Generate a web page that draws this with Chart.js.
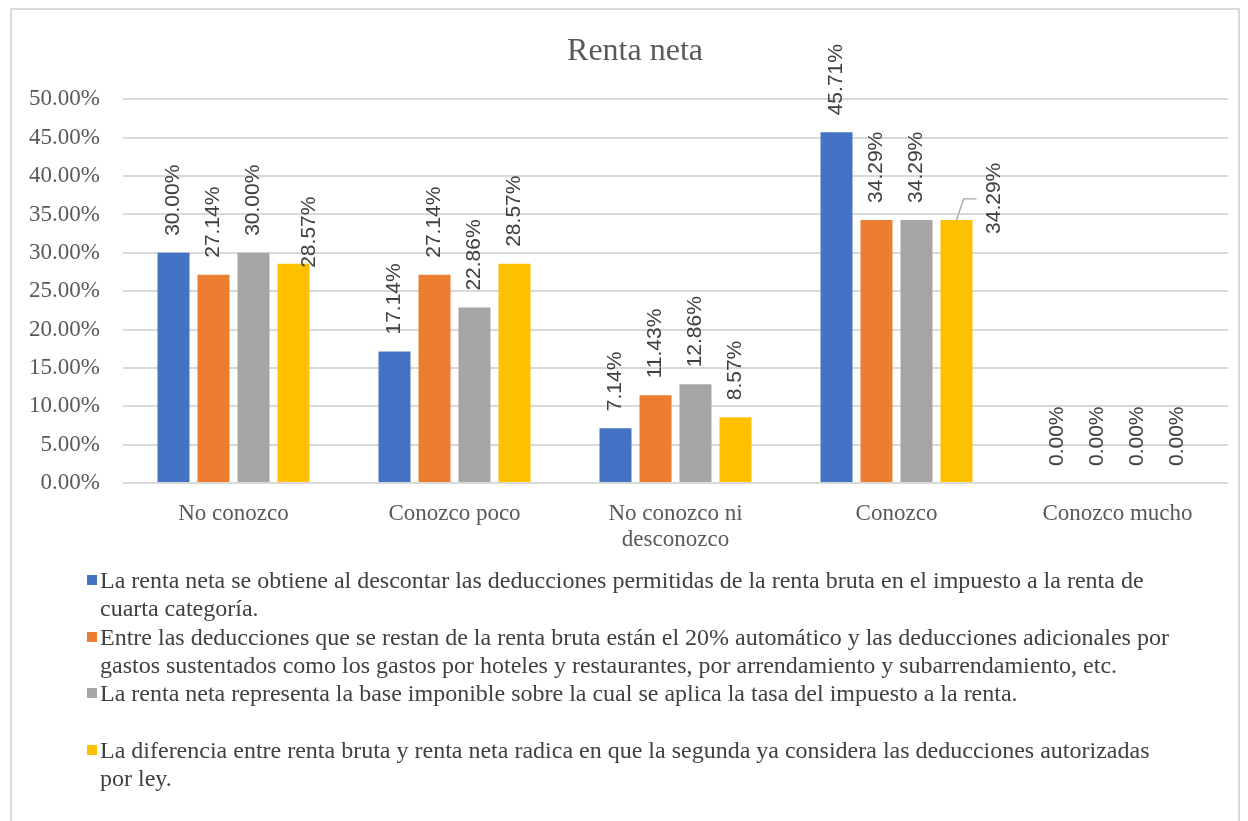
<!DOCTYPE html>
<html>
<head>
<meta charset="utf-8">
<script src="https://cdn.jsdelivr.net/npm/chart.js@4"></script>
<style>
  body { margin: 0; background: #fff; }
  #frame { position: absolute; left: 10px; top: 8px; width: 1230px; height: 830px; border: 2px solid #d9d9d9; box-sizing: border-box; }
  #plot { position: absolute; left: 0; top: 0; width: 1226px; height: 560px; }
  #legend { position: absolute; left: 0; top: 556px; font-family: "Liberation Serif", serif; font-size: 24px; color: #404040; }
  .item { position: relative; height: 56.7px; padding-left: 88px; }
  .item .box { position: absolute; left: 75px; top: 9px; width: 10px; height: 10px; }
  .item div.line { line-height: 28.3px; white-space: nowrap; }
</style>
</head>
<body>
<div id="frame">
  <div id="plot"><canvas id="myChart"></canvas></div>
  <div id="legend"></div>
</div>
<script>
const categories = ['No conozco', 'Conozco poco', ['No conozco ni', 'desconozco'], 'Conozco', 'Conozco mucho'];

const seriesLabels = [
    ['La renta neta se obtiene al descontar las deducciones permitidas de la renta bruta en el impuesto a la renta de', 'cuarta categoría.'],
    ['Entre las deducciones que se restan de la renta bruta están el 20% automático y las deducciones adicionales por', 'gastos sustentados como los gastos por hoteles y restaurantes, por arrendamiento y subarrendamiento, etc.'],
    ['La renta neta representa la base imponible sobre la cual se aplica la tasa del impuesto a la renta.'],
    ['La diferencia entre renta bruta y renta neta radica en que la segunda ya considera las deducciones autorizadas', 'por ley.']
];

const serie1 = [0.3000, 0.1714, 0.0714, 0.4571, 0];
const serie2 = [0.2714, 0.2714, 0.1143, 0.3429, 0];
const serie3 = [0.3000, 0.2286, 0.1286, 0.3429, 0];
const serie4 = [0.2857, 0.2857, 0.0857, 0.3429, 0];

const colors = ['#4472C4', '#ED7D31', '#A5A5A5', '#FFC000'];

const pct = v => (v * 100).toFixed(2) + '%';

// labels Excel pushed aside (series 4); the Conozco one has a leader line
const movedLabels = [
    { dataset: 3, index: 0, dx: 16, dy: 21, leader: false },
    { dataset: 3, index: 3, dx: 38, dy: 31, leader: true }
];

const barLabels = {
    id: 'barLabels',
    afterDatasetsDraw(chart) {
        const ctx = chart.ctx;
        ctx.save();
        ctx.font = '21px "Liberation Sans"';
        ctx.fillStyle = '#404040';
        ctx.textAlign = 'left';
        ctx.textBaseline = 'middle';
        chart.data.datasets.forEach((ds, i) => {
            chart.getDatasetMeta(i).data.forEach((bar, j) => {
                const v = ds.data[j];
                let x = bar.x;
                let y = bar.y - 17;
                const m = movedLabels.find(o => o.dataset === i && o.index === j);
                if (m) {
                    if (m.leader) {
                        ctx.strokeStyle = '#a6a6a6';
                        ctx.lineWidth = 1.3;
                        ctx.beginPath();
                        ctx.moveTo(bar.x, bar.y);
                        ctx.lineTo(bar.x + 7, bar.y - 21);
                        ctx.lineTo(bar.x + 20, bar.y - 21);
                        ctx.stroke();
                    }
                    x += m.dx;
                    y += m.dy;
                }
                ctx.save();
                ctx.translate(x, y);
                ctx.rotate(-Math.PI / 2);
                ctx.fillText(pct(v), 0, 0);
                ctx.restore();
            });
        });
        ctx.restore();
    }
};

// Excel's title sits a little right of the canvas centre
const titleNudge = {
    id: 'titleNudge',
    afterLayout(chart) {
        if (chart.titleBlock) {
            chart.titleBlock.left += 30;
        }
    }
};

const allSeries = [serie1, serie2, serie3, serie4];

const ctx = document.getElementById('myChart').getContext('2d');
new Chart(ctx, {
    type: 'bar',
    data: {
        labels: categories,
        datasets: allSeries.map((d, i) => ({
            label: seriesLabels[i].join(' '),
            data: d,
            backgroundColor: colors[i],
            categoryPercentage: 0.724,
            barPercentage: 0.8
        }))
    },
    options: {
        responsive: true,
        maintainAspectRatio: false,
        animation: false,
        layout: { padding: { left: 0, right: 10, top: 0, bottom: 15 } },
        plugins: {
            legend: { display: false },
            tooltip: { enabled: false },
            title: {
                display: true,
                text: 'Renta neta',
                color: '#595959',
                font: { family: 'Liberation Serif', size: 32, weight: 'normal' },
                padding: { top: 22, bottom: 29 }
            }
        },
        scales: {
            y: {
                min: 0,
                max: 0.5,
                ticks: {
                    stepSize: 0.05,
                    callback: v => pct(v),
                    color: '#595959',
                    font: { family: 'Liberation Serif', size: 23 },
                    padding: 23
                },
                grid: { color: '#d9d9d9', lineWidth: 2, drawTicks: false },
                border: { display: false },
                afterFit: scale => { scale.width = 111; }
            },
            x: {
                ticks: {
                    color: '#595959',
                    font: { family: 'Liberation Serif', size: 23, lineHeight: 1.17 },
                    padding: 17,
                    maxRotation: 0
                },
                grid: { display: false, drawTicks: false },
                border: { display: false },
                afterFit: scale => { scale.height = 72; }
            }
        }
    },
    plugins: [barLabels, titleNudge]
});

const legend = document.getElementById('legend');
seriesLabels.forEach((lines, i) => {
    const item = document.createElement('div');
    item.className = 'item';
    const box = document.createElement('span');
    box.className = 'box';
    box.style.background = colors[i];
    item.appendChild(box);
    lines.forEach(t => {
        const line = document.createElement('div');
        line.className = 'line';
        line.textContent = t;
        item.appendChild(line);
    });
    legend.appendChild(item);
});
</script>
</body>
</html>
